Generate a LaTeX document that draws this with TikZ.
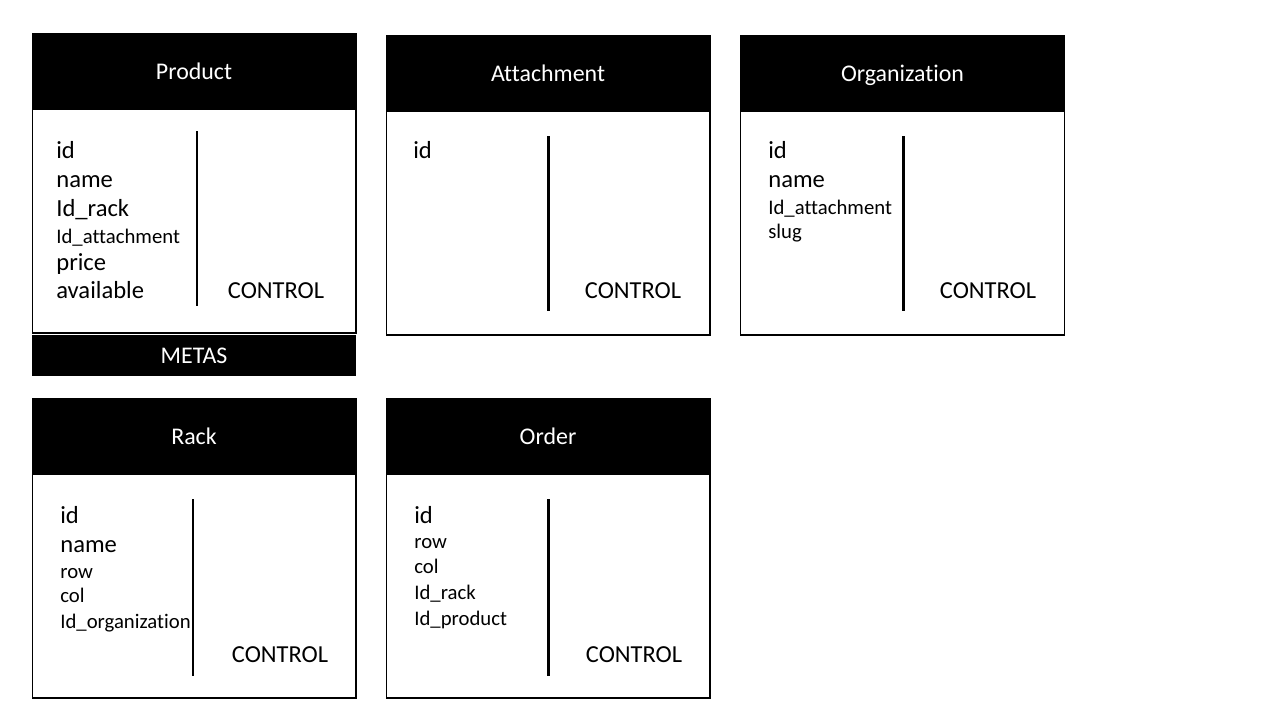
\documentclass[tikz,border=0pt]{standalone}
\usepackage{fontspec}
\setmainfont{Carlito}[Ligatures=NoCommon]
\usepackage{tikz}
\usetikzlibrary{positioning}

\tikzset{
  tblbody/.style={draw=black, line width=0.6pt, fill=white, minimum width=6.48cm, minimum height=6cm, inner sep=0pt},
  tblhead/.style={fill=black, text=white, minimum width=6.48cm, minimum height=1.54cm, inner sep=0pt, text height=11.5pt, text depth=2.3pt, font=\fontsize{13.6}{15}\selectfont},
  bigfield/.style={anchor=base west, inner sep=0pt, font=\fontsize{14}{16}\selectfont},
  smallfield/.style={anchor=base west, inner sep=0pt, font=\fontsize{11.8}{13}\selectfont},
  ctrl/.style={anchor=base, inner sep=0pt, font=\fontsize{13.9}{16}\selectfont},
  sep/.style={line width=1.7pt}
}

\begin{document}
\begin{tikzpicture}[x=0.02cm, y=-0.02cm]
\useasboundingbox (0,0) rectangle (1280,720);

% Product
\node[tblbody] (product) at (194,183) {};
\node[tblhead] (product_head) at (194,71.5) {Product};
\node[bigfield] (product_f1) at (56,158) {id};
\node[bigfield] (product_f2) at (56,187) {name};
\node[bigfield] (product_f3) at (56,216) {Id\_rack};
\node[smallfield] (product_f4) at (56,243) {Id\_attachment};
\node[bigfield] (product_f5) at (56,270) {price};
\node[bigfield] (product_f6) at (56,298) {available};
\node[ctrl] (product_ctrl) at (276,298) {CONTROL};
\coordinate (product_top) at (197,131);
\coordinate (product_bot) at (197,306);
\draw[sep] (product_top) -- (product_bot);
\node[tblhead, minimum height=0.82cm] (metas) at (194,355.5) {METAS};

% Attachment
\node[tblbody] (attachment) at (548,185) {};
\node[tblhead] (attachment_head) at (548,73.5) {Attachment};
\node[bigfield] (attachment_f1) at (413,158) {id};
\node[ctrl] (attachment_ctrl) at (633,298) {CONTROL};
\coordinate (attachment_top) at (548,136);
\coordinate (attachment_bot) at (548,311);
\draw[sep] (attachment_top) -- (attachment_bot);

% Organization
\node[tblbody] (organization) at (902.5,185) {};
\node[tblhead] (organization_head) at (902.5,73.5) {Organization};
\node[bigfield] (organization_f1) at (768,158) {id};
\node[bigfield] (organization_f2) at (768,187) {name};
\node[smallfield] (organization_f3) at (768,214) {Id\_attachment};
\node[smallfield] (organization_f4) at (768,238) {slug};
\node[ctrl] (organization_ctrl) at (988,298) {CONTROL};
\coordinate (organization_top) at (903,136);
\coordinate (organization_bot) at (903,311);
\draw[sep] (organization_top) -- (organization_bot);

% Rack
\node[tblbody] (rack) at (194,548) {};
\node[tblhead] (rack_head) at (194,436.5) {Rack};
\node[bigfield] (rack_f1) at (60,523) {id};
\node[bigfield] (rack_f2) at (60,552) {name};
\node[smallfield] (rack_f3) at (60,578) {row};
\node[smallfield] (rack_f4) at (60,602) {col};
\node[smallfield] (rack_f5) at (60,628) {Id\_organization};
\node[ctrl] (rack_ctrl) at (280,662) {CONTROL};
\coordinate (rack_top) at (193,499);
\coordinate (rack_bot) at (193,676);
\draw[sep] (rack_top) -- (rack_bot);

% Order
\node[tblbody] (order) at (548,548) {};
\node[tblhead] (order_head) at (548,436.5) {Order};
\node[bigfield] (order_f1) at (414,523) {id};
\node[smallfield] (order_f2) at (414,548) {row};
\node[smallfield] (order_f3) at (414,573) {col};
\node[smallfield] (order_f4) at (414,599) {Id\_rack};
\node[smallfield] (order_f5) at (414,625) {Id\_product};
\node[ctrl] (order_ctrl) at (634,662) {CONTROL};
\coordinate (order_top) at (548,499);
\coordinate (order_bot) at (548,676);
\draw[sep] (order_top) -- (order_bot);

\end{tikzpicture}
\end{document}
